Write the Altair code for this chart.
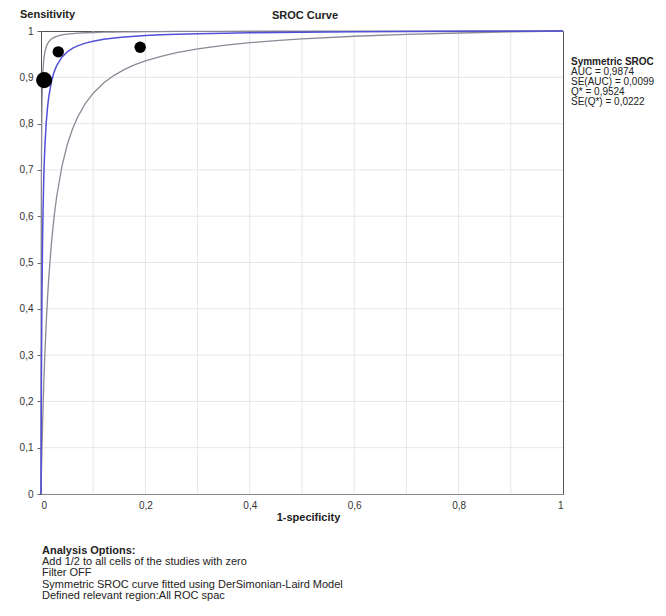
import altair as alt
import pandas as pd

# ---- data ----
study_fpr = [0.006, 0.033, 0.19]
study_sens = [0.894, 0.955, 0.965]
study_weight = [260, 130, 130]

# Symmetric SROC (Moses-Littenberg, b = 0): Q* = 0.9524 -> DOR ~ 400
dor_mid = 400.3
dor_low = 58.0
dor_high = 2800.0

fpr_grid = [0, 0.0001, 0.0002, 0.0003, 0.0005, 0.00075, 0.001, 0.0015, 0.002,
            0.003, 0.004, 0.005, 0.006, 0.0075, 0.01, 0.0125, 0.015, 0.02,
            0.025, 0.03, 0.04, 0.05, 0.06, 0.07, 0.085, 0.1, 0.12, 0.14, 0.16,
            0.18, 0.2, 0.23, 0.26, 0.3, 0.35, 0.4, 0.45, 0.5, 0.6, 0.7, 0.8,
            0.9, 1.0]

grid_vals = [0.1, 0.2, 0.3, 0.4, 0.5, 0.6, 0.7, 0.8, 0.9]
x_ticks = [0, 0.2, 0.4, 0.6, 0.8, 1]
y_ticks = [0, 0.1, 0.2, 0.3, 0.4, 0.5, 0.6, 0.7, 0.8, 0.9, 1]

stats_title = "Symmetric SROC"
stats_lines = ["AUC = 0,9874", "SE(AUC) = 0,0099", "Q* = 0,9524", "SE(Q*) = 0,0222"]
options_title = "Analysis Options:"
options_lines = ["Add 1/2 to all cells of the studies with zero",
                 "Filter OFF",
                 "Symmetric SROC curve fitted using DerSimonian-Laird Model",
                 "Defined relevant region:All ROC spac"]

FONT = "Liberation Sans"

def curve(dor, name):
    return pd.DataFrame({
        "fpr": fpr_grid,
        "sens": [dor * f / (dor * f + (1 - f)) for f in fpr_grid],
        "curve": name,
    })

curves = pd.concat([curve(dor_low, "low"), curve(dor_high, "high")])
mid = curve(dor_mid, "mid")
pts = pd.DataFrame({"fpr": study_fpr, "sens": study_sens, "w": study_weight})

xs = alt.Scale(domain=[0, 1], nice=False)
ys = alt.Scale(domain=[0, 1], nice=False)

grid_x = alt.Chart(pd.DataFrame({"g": grid_vals})).mark_rule(
    color="#e6e6e6", strokeWidth=1).encode(x=alt.X("g:Q", scale=xs))
grid_y = alt.Chart(pd.DataFrame({"g": grid_vals})).mark_rule(
    color="#e6e6e6", strokeWidth=1).encode(y=alt.Y("g:Q", scale=ys))

bounds = alt.Chart(curves).mark_line(color="#8a8a96", strokeWidth=1.3).encode(
    x=alt.X("fpr:Q", scale=xs,
            axis=alt.Axis(values=x_ticks, grid=False, ticks=False,
                          labelExpr="replace(format(datum.value, '~g'), '.', ',')",
                          labelFont=FONT, labelFontSize=10, labelColor="#333",
                          labelPadding=6, domainColor="#888",
                          title="1-specificity", titleFont=FONT,
                          titleFontSize=11, titleFontWeight="bold",
                          titleColor="#222", titlePadding=1, titleX=267)),
    y=alt.Y("sens:Q", scale=ys,
            axis=alt.Axis(values=y_ticks, grid=False, tickSize=4,
                          tickColor="#666",
                          labelExpr="replace(format(datum.value, '~g'), '.', ',')",
                          labelFont=FONT, labelFontSize=10, labelColor="#333",
                          labelPadding=4, domainColor="#555", title=None)),
    detail="curve:N",
    order="fpr:Q",
)

main = alt.Chart(mid).mark_line(color="#5050d8", strokeWidth=1.5).encode(
    x=alt.X("fpr:Q", scale=xs), y=alt.Y("sens:Q", scale=ys), order="fpr:Q")

dots = alt.Chart(pts).mark_circle(color="black", opacity=1).encode(
    x=alt.X("fpr:Q", scale=xs), y=alt.Y("sens:Q", scale=ys),
    size=alt.Size("w:Q", scale=None, legend=None))

def lines_chart(lines, x0, y0, step, size=10, weight="normal"):
    layers = []
    for i, t in enumerate(lines):
        layers.append(alt.Chart(pd.DataFrame({"t": [t]})).mark_text(
            align="left", baseline="middle", font=FONT, fontSize=size,
            fontWeight=weight, color="#222").encode(
            text="t:N", x=alt.value(x0), y=alt.value(y0 + i * step)))
    return layers

title_sens = alt.Chart(pd.DataFrame({"t": ["Sensitivity"]})).mark_text(
    align="left", baseline="middle", font=FONT, fontSize=11, fontWeight="bold",
    color="#222").encode(text="t:N", x=alt.value(-21), y=alt.value(-16))
title_main = alt.Chart(pd.DataFrame({"t": ["SROC Curve"]})).mark_text(
    align="center", baseline="middle", font=FONT, fontSize=11, fontWeight="bold",
    color="#222").encode(text="t:N", x=alt.value(264), y=alt.value(-15))

stats_head = lines_chart([stats_title], 530, 31, 10, size=10, weight="bold")
stats_body = lines_chart(stats_lines, 530, 41, 10, size=10)
opt_head = lines_chart([options_title], 1, 520, 11.2, size=11, weight="bold")
opt_body = lines_chart(options_lines, 1, 531.2, 11.2, size=11)

chart = alt.layer(
    grid_x, grid_y, bounds, main, dots, title_sens, title_main,
    *stats_head, *stats_body, *opt_head, *opt_body,
).properties(
    width=522, height=463,
    autosize=alt.AutoSizeParams(type="none"),
    padding={"left": 33, "top": 23, "right": 95, "bottom": 108},
    background="white",
).configure_view(stroke="#555", strokeWidth=1)

chart.save("out.html", embed_options={"renderer": "svg", "actions": False})
